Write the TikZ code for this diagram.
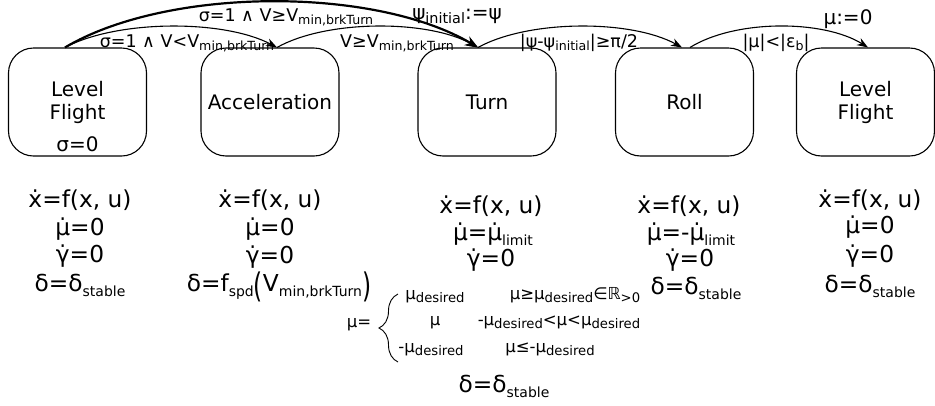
\documentclass[tikz,border=0pt]{standalone}
\usepackage{fontspec}
\setmainfont{DejaVu Sans}
\usetikzlibrary{arrows.meta,decorations.pathreplacing}
\def\subsc{0.72}
\newcommand\lo[1]{\raisebox{-0.22em}{\scalebox{\subsc}{#1}}}
\newcommand\bigparen[1]{\raisebox{-6pt}{\scalebox{1}[1.45]{#1}}}
\tikzset{
  state/.style={draw, rounded corners=25pt, minimum width=138pt, minimum height=108pt,
    line width=1.1pt, align=center, font=\fontsize{20}{23}\selectfont, inner sep=0pt},
  eq/.style={anchor=base, inner sep=0pt, font=\fontsize{23.3}{26}\selectfont\def\subsc{0.6}},
  cond/.style={anchor=base, inner sep=0pt, font=\fontsize{17.5}{20}\selectfont\def\subsc{0.72}},
  act/.style={anchor=base, inner sep=0pt, font=\fontsize{20}{24}\selectfont\def\subsc{0.72}},
  pw/.style={anchor=base, inner sep=0pt, font=\fontsize{16.5}{20}\selectfont\def\subsc{0.8}},
  tr/.style={line width=1.1pt, -{Stealth[length=11pt,width=8pt]}},
  trthick/.style={line width=2.2pt, -{Stealth[length=13pt,width=10pt]}},
}
\begin{document}
\begin{tikzpicture}[x=1pt,y=-1pt]
\useasboundingbox (0,0) rectangle (935,405);
% states
\node[state] (lf1) at (77.5,102) {Level\\Flight};
\node[state] (acc) at (270,102) {Acceleration};
\node[state] (turn) at (487,102) {Turn};
\node[state] (roll) at (684.5,102) {Roll};
\node[state] (lf2) at (865.5,102) {Level\\Flight};
\node[act] (sig) at (77.5,151) {σ=0};
% attachment points
\coordinate (a1) at ([xshift=-12.5pt]lf1.north);
\coordinate (b1) at ([xshift=7pt]acc.north);
\coordinate (c1) at ([xshift=-9pt]turn.north);
\coordinate (d1) at ([xshift=-2.5pt]roll.north);
\coordinate (d2) at ([xshift=5.5pt]roll.north);
\coordinate (e1) at ([xshift=2.5pt]lf2.north);
% transitions
\draw[tr] (a1) .. controls +(53,-28) and +(-53,-28) .. (b1);
\draw[trthick] (a1) .. controls +(103,-61) and +(-103,-61) .. (c1);
\draw[tr] (b1) .. controls +(50,-28) and +(-50,-28) .. (c1);
\draw[tr] (c1) .. controls +(51,-28) and +(-51,-28) .. (d1);
\draw[tr] (d2) .. controls +(45,-28) and +(-45,-28) .. (e1);
% transition labels
\node[cond] (l1) at (187,47) {σ=1 ∧ V<V\lo{min,brkTurn}};
\node[cond] (l2) at (286,21) {σ=1 ∧ V≥V\lo{min,brkTurn}};
\node[act] (l3) at (457,19) {ψ\lo{initial}:=ψ};
\node[cond] (l4) at (397,47) {V≥V\lo{min,brkTurn}};
\node[cond] (l5) at (579,47) {|ψ-ψ\lo{initial}|≥π/2};
\node[cond] (l6) at (776,47) {|μ|<|ε\lo{b}|};
\node[act] (l7) at (848,24) {μ:=0};
% equations: level flight 1
\node[eq] (q11) at (80,207) {ẋ=f(x, u)};
\node[eq] (q12) at (80,235) {μ̇=0};
\node[eq] (q13) at (80,262) {γ̇=0};
\node[eq] (q14) at (80,291) {δ=δ\lo{stable}};
% acceleration
\node[eq] (q21) at (270,207) {ẋ=f(x, u)};
\node[eq] (q22) at (270,235) {μ̇=0};
\node[eq] (q23) at (270,263) {γ̇=0};
\node[eq] (q24) at (279,291) {δ=f\lo{spd}\bigparen{(}V\lo{min,brkTurn}\bigparen{)}};
% turn
\node[eq] (q31) at (491,213) {ẋ=f(x, u)};
\node[eq] (q32) at (493,240) {μ̇=μ̇\lo{limit}};
\node[eq] (q33) at (491,266) {γ̇=0};
\node[pw] (mueq) at (359,327) {μ=};
\draw[line width=0.9pt, decorate, decoration={brace, amplitude=19pt}] (398,362) -- (398,294);
\node[pw] (r1a) at (435,299) {μ\lo{desired}};
\node[pw] (r1b) at (575,299) {μ≥μ\lo{desired}∈ℝ\lo{>0}};
\node[pw] (r2a) at (435,325) {μ};
\node[pw] (r2b) at (559,325) {-μ\lo{desired}<μ<μ\lo{desired}};
\node[pw] (r3a) at (431,352) {-μ\lo{desired}};
\node[pw] (r3b) at (550,352) {μ≤-μ\lo{desired}};
\node[eq] (dfin) at (504,392) {δ=δ\lo{stable}};
% roll
\node[eq] (q41) at (689,213) {ẋ=f(x, u)};
\node[eq] (q42) at (691,240) {μ̇=-μ̇\lo{limit}};
\node[eq] (q43) at (690,266) {γ̇=0};
\node[eq] (q44) at (696,294) {δ=δ\lo{stable}};
% level flight 2
\node[eq] (q51) at (870,207) {ẋ=f(x, u)};
\node[eq] (q52) at (870,233) {μ̇=0};
\node[eq] (q53) at (870,262) {γ̇=0};
\node[eq] (q54) at (870,292) {δ=δ\lo{stable}};
\end{tikzpicture}
\end{document}
